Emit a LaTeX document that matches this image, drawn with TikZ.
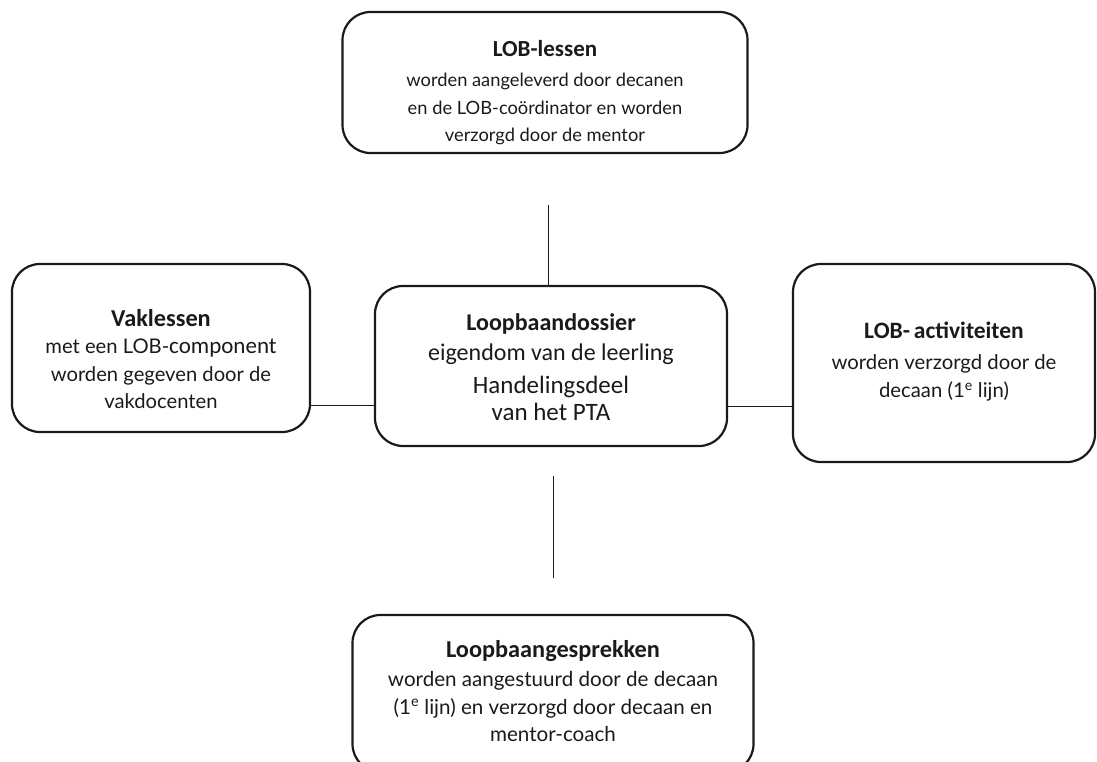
\documentclass[tikz,border=0pt]{standalone}
\usepackage{fontspec}
\setmainfont{Lato}
\newfontfamily\calib{Carlito}
\definecolor{ink}{HTML}{1A1A1A}
\begin{document}
\begin{tikzpicture}[x=1pt,y=-1pt,
  box/.style={draw=ink, line width=2.2pt, rounded corners=28pt, inner sep=0pt},
  txt/.style={align=center, text=ink, inner sep=0pt, anchor=north},
  conn/.style={draw=ink, line width=1pt}]
\useasboundingbox (0,0) rectangle (1097,762);
% boxes
\node[box, minimum width=405pt, minimum height=141pt] (top) at (545,82.5) {};
\node[box, minimum width=298pt, minimum height=168pt] (left) at (161,348) {};
\node[box, minimum width=352pt, minimum height=160pt] (mid) at (551,366) {};
\node[box, minimum width=302pt, minimum height=198pt] (right) at (944,363) {};
\node[box, minimum width=401pt, minimum height=157pt] (bot) at (553,693.5) {};
% texts
\node[txt, font=\fontsize{18.3}{27.5}\selectfont] (ttop) at (545,40) {{\calib\bfseries\fontsize{23}{27}\selectfont LOB-lessen}\\[3pt]worden aangeleverd door decanen\\en de LOB-coördinator en worden\\verzorgd door de mentor};
\node[txt, font=\fontsize{20.2}{27.5}\selectfont] (tleft) at (161,309) {{\calib\bfseries\fontsize{24.3}{27}\selectfont Vaklessen}\\met een LOB-{\calib\fontsize{23}{27}\selectfont component}\\worden gegeven door de\\vakdocenten};
\node[txt, font=\calib\fontsize{24}{30}\selectfont] (tmid) at (551,313) {{\bfseries Loopbaandossier}\\eigendom van de leerling};
\node[txt, font=\calib\fontsize{25}{27}\selectfont] (tmid2) at (551,375.5) {Handelingsdeel\\van het PTA};
\node[txt, font=\fontsize{20.3}{28.5}\selectfont] (tright) at (944,322) {{\calib\bfseries\fontsize{23.5}{27}\selectfont LOB-\,activiteiten}\\[2pt]worden verzorgd door de\\decaan (1\textsuperscript{e} lijn)};
\node[txt, font=\fontsize{20.6}{27.5}\selectfont] (tbot) at (553,640) {{\calib\bfseries\fontsize{24.3}{27}\selectfont Loopbaangesprekken}\\[2pt]worden aangestuurd door de decaan\\(1\textsuperscript{e} lijn) en verzorgd door decaan en\\mentor-coach};
% connectors
\coordinate (ctop) at (548,205);
\coordinate (cbot) at (553,476);
\coordinate (cbotend) at (553,578);
\draw[conn] (ctop) -- (mid.north -| ctop);
\draw[conn] (left.east |- 0,405) -- (mid.west |- 0,405);
\draw[conn] (mid.east |- 0,406) -- (right.west |- 0,406);
\draw[conn] (cbot) -- (cbotend);
\end{tikzpicture}
\end{document}
